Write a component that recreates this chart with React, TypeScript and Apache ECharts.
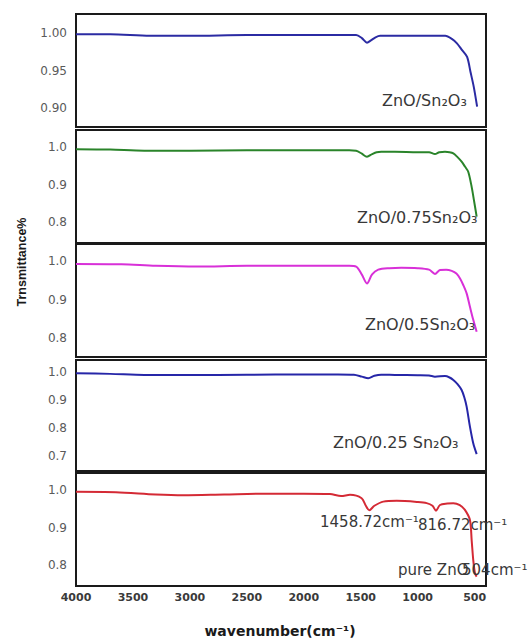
import React, { useEffect, useRef } from "react";
import * as echarts from "echarts";

// ---- data (wavenumber cm^-1, transmittance) ----
const wn1 = [4000, 3700, 3350, 3000, 2500, 2000, 1600, 1540, 1490, 1445, 1410, 1370, 1330, 1200, 1000, 850, 758, 700, 655, 610, 566, 536, 507, 478];
const t1 = [0.998, 0.998, 0.996, 0.996, 0.997, 0.997, 0.997, 0.997, 0.993, 0.987, 0.99, 0.994, 0.996, 0.996, 0.996, 0.996, 0.996, 0.992, 0.986, 0.977, 0.968, 0.948, 0.928, 0.902];

const wn2 = [4000, 3700, 3400, 3000, 2500, 2000, 1600, 1540, 1490, 1445, 1400, 1360, 1320, 1200, 1000, 900, 848, 810, 760, 720, 687, 650, 614, 585, 556, 526, 506, 482];
const t2 = [0.994, 0.993, 0.99, 0.99, 0.991, 0.991, 0.991, 0.99, 0.982, 0.974, 0.981, 0.986, 0.987, 0.987, 0.986, 0.986, 0.981, 0.986, 0.987, 0.986, 0.983, 0.973, 0.961, 0.948, 0.934, 0.894, 0.859, 0.815];

const wn3 = [4000, 3600, 3300, 2933, 2500, 2000, 1600, 1540, 1490, 1445, 1400, 1346, 1250, 1144, 1000, 900, 848, 804, 750, 701, 660, 628, 600, 570, 541, 512, 482];
const t3 = [0.993, 0.992, 0.988, 0.986, 0.988, 0.988, 0.988, 0.986, 0.965, 0.942, 0.966, 0.978, 0.982, 0.983, 0.982, 0.978, 0.967, 0.977, 0.978, 0.975, 0.968, 0.955, 0.938, 0.916, 0.881, 0.847, 0.816];

const wn4 = [4000, 3700, 3400, 3000, 2500, 2000, 1700, 1560, 1490, 1434, 1380, 1320, 1200, 1000, 900, 848, 760, 720, 687, 650, 614, 590, 570, 541, 512, 482];
const t4 = [0.997, 0.995, 0.991, 0.991, 0.992, 0.993, 0.993, 0.992, 0.985, 0.979, 0.988, 0.992, 0.991, 0.99, 0.989, 0.985, 0.987, 0.982, 0.973, 0.958, 0.937, 0.91, 0.877, 0.805, 0.745, 0.706];

const wn5 = [4000, 3650, 3300, 3057, 2700, 2316, 2000, 1770, 1672, 1594, 1492, 1455, 1425, 1380, 1302, 1184, 1000, 921, 870, 839, 804, 740, 687, 630, 585, 541, 526, 512, 497, 482];
const t5 = [0.995, 0.994, 0.988, 0.986, 0.988, 0.99, 0.99, 0.989, 0.984, 0.987, 0.978, 0.958, 0.946, 0.958, 0.969, 0.971, 0.968, 0.965, 0.958, 0.945, 0.96, 0.964, 0.965, 0.96, 0.947, 0.92, 0.867, 0.814, 0.779, 0.77];

const seriesX = [wn1, wn2, wn3, wn4, wn5];
const seriesY = [t1, t2, t3, t4, t5];

// y-axis ranges per panel
const yMins = [0.875, 0.745, 0.75, 0.645, 0.745];
const yMaxs = [1.025, 1.045, 1.045, 1.045, 1.045];
const yMinorSteps = [0.025, 0.005, 0.005, 0.005, 0.005];
const yLabelSteps = [0.05, 0.1, 0.1, 0.1, 0.1];
const yDigits = [2, 1, 1, 1, 1];

// x axis
const xMin = 400;
const xMax = 4000;
const xLabelStep = 500;

// texts
const panelLabels = ["ZnO/Sn₂O₃", "ZnO/0.75Sn₂O₃", "ZnO/0.5Sn₂O₃", "ZnO/0.25 Sn₂O₃"];
const peakLabels = ["1458.72cm⁻¹", "816.72cm⁻¹", "pure ZnO", "504cm⁻¹"];
const xTitle = "wavenumber(cm⁻¹)";
const yTitle = "Trnsmittance%";

// ---- layout / style ----
const colors = ["#2b2ba3", "#2a842a", "#d830d8", "#2626a8", "#d42a35"];
const gridTops = [14, 130, 244, 360, 473];
const gridHeights = [113, 113, 113, 111, 113];
const gridLeft = 76;
const gridWidth = 410;
const panelLabelPos = [
  [382, 100],
  [357, 217],
  [365, 324],
  [333, 442],
];
const peakLabelPos = [
  [320, 522],
  [418, 525],
  [398, 570],
  [462, 570],
];

export default function App() {
  const ref = useRef<HTMLDivElement>(null);

  useEffect(() => {
    if (!ref.current) return;
    const chart = echarts.init(ref.current, undefined, { renderer: "svg" });

    const grids = gridTops.map((top, i) => ({
      left: gridLeft,
      top,
      width: gridWidth,
      height: gridHeights[i],
      show: true,
      borderColor: "#1a1a1a",
      borderWidth: 2,
      backgroundColor: "transparent",
      containLabel: false,
    }));

    const xAxes = gridTops.map((_, i) => ({
      type: "value",
      gridIndex: i,
      min: xMin,
      max: xMax,
      interval: 100,
      inverse: true,
      axisLine: { show: false },
      axisTick: { show: false },
      splitLine: { show: false },
      axisLabel: {
        show: i === 4,
        margin: 6,
        fontFamily: "DejaVu Sans",
        fontWeight: "bold",
        fontSize: 11,
        color: "#3a3a3a",
        showMinLabel: true,
        showMaxLabel: true,
        formatter: (v: number) => (Math.round(v) % xLabelStep === 0 ? String(Math.round(v)) : ""),
      },
    }));

    const yAxes = gridTops.map((_, i) => ({
      type: "value",
      gridIndex: i,
      min: yMins[i],
      max: yMaxs[i],
      interval: yMinorSteps[i],
      axisLine: { show: false },
      axisTick: { show: false },
      splitLine: { show: false },
      axisLabel: {
        margin: 9,
        fontFamily: "DejaVu Sans",
        fontSize: 12,
        color: "#5a5a5a",
        formatter: (v: number) => {
          const k = Math.round(v * 1000);
          const s = Math.round(yLabelSteps[i] * 1000);
          return k % s === 0 ? v.toFixed(yDigits[i]) : "";
        },
      },
    }));

    const series = seriesX.map((xs, i) => ({
      type: "line",
      xAxisIndex: i,
      yAxisIndex: i,
      data: xs.map((x, j) => [x, seriesY[i][j]]),
      showSymbol: false,
      smooth: 0.3,
      lineStyle: { color: colors[i], width: 2 },
      itemStyle: { color: colors[i] },
    }));

    const textStyle = (text: string, x: number, y: number, size: number) => ({
      type: "text",
      x,
      y,
      style: {
        text,
        fontFamily: "DejaVu Sans",
        fontSize: size,
        fill: "#383838",
        textAlign: "left",
        textVerticalAlign: "middle",
      },
      z: 10,
    });

    const graphic: any[] = [];
    panelLabels.forEach((t, i) => graphic.push(textStyle(t, panelLabelPos[i][0], panelLabelPos[i][1], 16)));
    peakLabels.forEach((t, i) => graphic.push(textStyle(t, peakLabelPos[i][0], peakLabelPos[i][1], 15)));
    graphic.push({
      type: "text",
      x: 280,
      y: 631,
      style: {
        text: xTitle,
        fontFamily: "DejaVu Sans",
        fontWeight: "bold",
        fontSize: 14,
        fill: "#1a1a1a",
        textAlign: "center",
        textVerticalAlign: "middle",
      },
    });
    graphic.push({
      type: "text",
      x: 22,
      y: 262,
      rotation: Math.PI / 2,
      style: {
        text: yTitle,
        fontFamily: "Liberation Sans",
        fontWeight: "bold",
        fontSize: 12.5,
        fill: "#1a1a1a",
        textAlign: "center",
        textVerticalAlign: "middle",
      },
    });

    chart.setOption({
      animation: false,
      backgroundColor: "#ffffff",
      grid: grids,
      xAxis: xAxes,
      yAxis: yAxes,
      series,
      graphic,
    });

    return () => chart.dispose();
  }, []);

  return (
    <div
      ref={ref}
      style={{ position: "absolute", left: 0, top: 0, width: 528, height: 639 }}
    />
  );
}
